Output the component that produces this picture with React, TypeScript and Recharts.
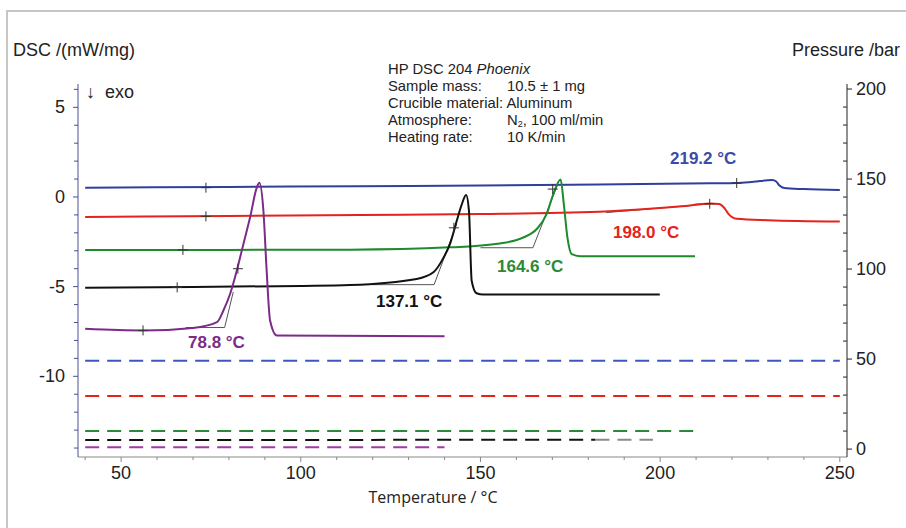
import React from "react";
import { ComposedChart, Line, XAxis, YAxis } from "recharts";

// tick values
const tempMajor = [50, 100, 150, 200, 250];
const tempTicks = [40, 50, 60, 70, 80, 90, 100, 110, 120, 130, 140, 150, 160, 170, 180, 190, 200, 210, 220, 230, 240, 250];
const dscMajor = [5, 0, -5, -10];
const dscTicks = [6, 5, 4, 3, 2, 1, 0, -1, -2, -3, -4, -5, -6, -7, -8, -9, -10, -11, -12, -13, -14];
const presMajor = [0, 50, 100, 150, 200];
const presTicks = [0, 10, 20, 30, 40, 50, 60, 70, 80, 90, 100, 110, 120, 130, 140, 150, 160, 170, 180, 190, 200];

// DSC curves [temperature, mW/mg]
const blueDsc = [[40, 0.52], [80, 0.56], [116, 0.6], [150, 0.64], [183, 0.7], [214, 0.76], [221.3, 0.78], [226, 0.85], [231.2, 0.94], [232.3, 0.86], [233.3, 0.62], [234.5, 0.5], [240, 0.44], [250, 0.39]];
const redDsc = [[40, -1.11], [80, -1.06], [116.5, -1.0], [150, -0.95], [183, -0.82], [197, -0.66], [206, -0.52], [213.8, -0.37], [216.4, -0.39], [217.8, -0.6], [219, -0.94], [221.3, -1.22], [230, -1.3], [250, -1.37]];
const greenDsc = [[40, -2.95], [80, -2.95], [113.7, -2.94], [141.5, -2.81], [155.4, -2.59], [161.9, -2.26], [165.6, -1.8], [168.4, -0.96], [170.25, 0.15], [172.3, 0.98], [173.2, -0.41], [174.2, -2.26], [175.4, -3.19], [177.7, -3.3], [209.7, -3.3]];
const blackDsc = [[40, -5.06], [70, -5.02], [100, -4.96], [113.7, -4.91], [132.25, -4.57], [136.9, -4.2], [139.65, -3.41], [141.5, -2.63], [143.4, -1.33], [144.8, -0.41], [146.0, 0.11], [146.8, -0.78], [147.55, -4.67], [148.9, -5.37], [150.8, -5.44], [199.9, -5.44]];
const purpleDsc = [[40, -7.35], [56, -7.44], [70, -7.3], [76.7, -6.98], [78.46, -6.33], [80.32, -5.41], [82.18, -4.11], [84.02, -2.63], [85.88, -1.15], [87.75, 0.52], [88.47, 0.79], [89.6, -0.78], [90.5, -4.11], [91.45, -6.89], [93.3, -7.72], [140, -7.76]];

// onset construction lines
const purpleTan = [[68, -7.28], [78.8, -7.28], [81.2, -5.3]];
const blackTan = [[120, -4.89], [137.1, -4.89], [143.4, -1.5]];
const greenTan = [[150, -2.83], [164.6, -2.83], [171.5, 0.7]];
const redTan = [[185, -0.87], [213.8, -0.39]];

// evaluation marks
const marks = [[73.6, 0.52], [221.3, 0.78], [73.6, -1.08], [213.8, -0.38], [67.2, -2.95], [170.1, 0.44], [65.6, -5.04], [142.6, -1.72], [56.1, -7.44], [82.5, -4.0]];

// pressure [temperature, bar]
const blueP = [[40, 49], [250, 49]];
const redP = [[40, 29.5], [250, 29.5]];
const greenP = [[40, 10], [210, 10]];
const blackP = [[40, 5], [182, 5.2]];
const blackPEnd = [[182, 5.2], [198, 5.2]];
const purpleP = [[40, 1], [140, 1]];

// peak annotations
const peakLabels = ["219.2 °C", "198.0 °C", "164.6 °C", "137.1 °C", "78.8 °C"];

const pts = (a: number[][]) => a.map(([t, v]) => ({ t, v }));

const BLUE = "#2e3f9e";
const RED = "#e5231b";
const GREEN = "#1f8a2d";
const BLACK = "#111111";
const PURPLE = "#7b2b88";

const tickFont = { fontFamily: "'Liberation Sans', Arial, sans-serif", fontSize: 18, fill: "#222" };

const TempTick = ({ x, y, payload }: any) => {
  const major = tempMajor.includes(payload.value);
  return (
    <g>
      <line x1={x} x2={x} y1={y} y2={y + (major ? 5 : 3)} stroke="#888" />
      {major && (
        <text x={x} y={y + 16} textAnchor="middle" dominantBaseline="central" {...tickFont}>
          {payload.value}
        </text>
      )}
    </g>
  );
};

const DscTick = ({ x, y, payload }: any) => {
  const major = dscMajor.includes(payload.value);
  return (
    <g>
      <line x1={x} x2={x - (major ? 5 : 4)} y1={y} y2={y} stroke="#4a5090" />
      {major && (
        <text x={x - 13} y={y} textAnchor="end" dominantBaseline="central" {...tickFont}>
          {payload.value}
        </text>
      )}
    </g>
  );
};

const PresTick = ({ x, y, payload }: any) => {
  const major = presMajor.includes(payload.value);
  return (
    <g>
      {major ? (
        <line x1={x} x2={x + 5} y1={y} y2={y} stroke="#222" />
      ) : (
        <line x1={x} x2={x - 4} y1={y} y2={y} stroke="#222" />
      )}
      {major && (
        <text x={x + 9} y={y} textAnchor="start" dominantBaseline="central" {...tickFont}>
          {payload.value}
        </text>
      )}
    </g>
  );
};

const Cross = ({ cx, cy }: any) => {
  if (cx == null || cy == null) return null;
  return (
    <g>
      <line x1={cx - 5} x2={cx + 5} y1={cy} y2={cy} stroke="#333" strokeWidth={1} />
      <line x1={cx} x2={cx} y1={cy - 5} y2={cy + 5} stroke="#333" strokeWidth={1} />
    </g>
  );
};

const curve = (data: number[][], color: string, key: string) => (
  <Line
    key={key}
    data={pts(data)}
    dataKey="v"
    yAxisId="dsc"
    type="monotone"
    stroke={color}
    strokeWidth={2}
    dot={false}
    isAnimationActive={false}
  />
);

const tangent = (data: number[][], key: string) => (
  <Line
    key={key}
    data={pts(data)}
    dataKey="v"
    yAxisId="dsc"
    type="linear"
    stroke="#555"
    strokeWidth={1}
    dot={false}
    isAnimationActive={false}
  />
);

const pressure = (data: number[][], color: string, key: string) => (
  <Line
    key={key}
    data={pts(data)}
    dataKey="v"
    yAxisId="p"
    type="linear"
    stroke={color}
    strokeWidth={2}
    strokeDasharray="14 8"
    dot={false}
    isAnimationActive={false}
  />
);

const sans = "'Liberation Sans', Arial, sans-serif";
const info = "'Open Sans', 'Noto Sans', sans-serif";

const abs = (left: number, top: number, extra: React.CSSProperties = {}): React.CSSProperties => ({
  position: "absolute",
  left,
  top,
  whiteSpace: "nowrap",
  ...extra,
});

const InfoRow = ({ label, children }: { label: React.ReactNode; children?: React.ReactNode }) => (
  <div style={{ display: "flex", height: 17 }}>
    <span style={{ display: "inline-block", width: children ? 119 : undefined }}>{label}</span>
    {children && <span>{children}</span>}
  </div>
);

export default function App() {
  const labelStyle = { fontFamily: sans, fontSize: 17, fontWeight: 700 as const };
  return (
    <div style={{ position: "absolute", left: 0, top: 0, width: 906, height: 528, background: "#fff", overflow: "hidden" }}>
      <div style={{ position: "absolute", left: 6, top: 10, width: 920, height: 540, borderLeft: "2px solid #c6c6c6", borderTop: "2px solid #c6c6c6" }} />
      <ComposedChart width={906} height={528} margin={{ top: 84, right: 19, bottom: 41, left: 38 }}>
        <XAxis
          dataKey="t"
          type="number"
          domain={[38, 252]}
          allowDataOverflow
          ticks={tempTicks}
          interval={0}
          tickSize={0}
          tickMargin={0}
          tick={<TempTick />}
          height={30}
          stroke="#888"
        />
        <YAxis
          yAxisId="dsc"
          orientation="left"
          type="number"
          domain={[-14.5, 6.3]}
          allowDataOverflow
          ticks={dscTicks}
          interval={0}
          tickSize={0}
          tickMargin={0}
          tick={<DscTick />}
          width={40}
          stroke="#4a5090"
        />
        <YAxis
          yAxisId="p"
          orientation="right"
          type="number"
          domain={[-4.4, 202.8]}
          allowDataOverflow
          ticks={presTicks}
          interval={0}
          tickSize={0}
          tickMargin={0}
          tick={<PresTick />}
          width={40}
          stroke="#222"
        />
        {pressure(blueP, "#3d56c2", "bp")}
        {pressure(redP, "#e5231b", "rp")}
        {pressure(greenP, "#2a8a3a", "gp")}
        {pressure(blackP, "#111", "kp")}
        {pressure(blackPEnd, "#8a8a8a", "kp2")}
        {pressure(purpleP, "#a23aa6", "pp")}
        {tangent(purpleTan, "pt")}
        {tangent(blackTan, "kt")}
        {tangent(greenTan, "gt")}
        {tangent(redTan, "rt")}
        {curve(blueDsc, BLUE, "b")}
        {curve(redDsc, RED, "r")}
        {curve(greenDsc, GREEN, "g")}
        {curve(blackDsc, BLACK, "k")}
        {curve(purpleDsc, PURPLE, "p")}
        <Line
          data={pts(marks)}
          dataKey="v"
          yAxisId="dsc"
          type="linear"
          stroke="none"
          dot={<Cross />}
          isAnimationActive={false}
        />
      </ComposedChart>

      <div style={abs(13, 40, { fontFamily: sans, fontSize: 18, color: "#222" })}>DSC /(mW/mg)</div>
      <div style={abs(792, 40, { fontFamily: sans, fontSize: 18, color: "#222" })}>Pressure /bar</div>
      <div style={abs(86, 82, { fontFamily: sans, fontSize: 18, color: "#222" })}>↓&nbsp;&nbsp;exo</div>
      <div style={abs(0, 486, { width: 866, textAlign: "center", fontFamily: info, fontSize: 16, color: "#222" })}>Temperature / °C</div>

      <div style={abs(388, 61, { fontFamily: sans, fontSize: 14.8, lineHeight: "17px", color: "#222" })}>
        <InfoRow label={<>HP DSC 204 <i>Phoenix</i></>} />
        <InfoRow label="Sample mass:">10.5 ± 1 mg</InfoRow>
        <InfoRow label="Crucible material: Aluminum" />
        <InfoRow label="Atmosphere:">
          N<span style={{ fontSize: 9, position: "relative", top: 1.5 }}>2</span>, 100 ml/min
        </InfoRow>
        <InfoRow label="Heating rate:">10 K/min</InfoRow>
      </div>

      <div style={abs(670, 149, { ...labelStyle, color: "#3a4aa8" })}>{peakLabels[0]}</div>
      <div style={abs(613, 223, { ...labelStyle, color: RED })}>{peakLabels[1]}</div>
      <div style={abs(497, 257, { ...labelStyle, color: "#2a8a37" })}>{peakLabels[2]}</div>
      <div style={abs(376, 292, { ...labelStyle, color: BLACK })}>{peakLabels[3]}</div>
      <div style={abs(188, 333, { ...labelStyle, color: PURPLE })}>{peakLabels[4]}</div>
    </div>
  );
}
